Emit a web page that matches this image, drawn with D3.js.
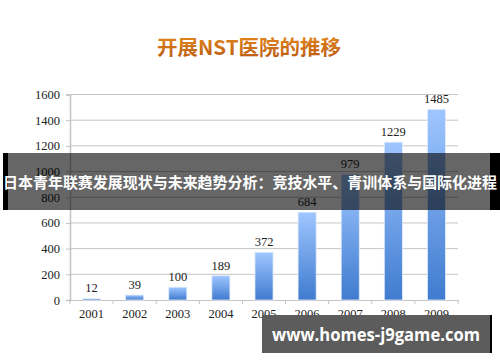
<!DOCTYPE html>
<html>
<head>
<meta charset="utf-8">
<script src="https://cdn.jsdelivr.net/npm/d3@7"></script>
<style>
  body { margin: 0; background: #fff; }
  svg { display: block; }
</style>
</head>
<body>
<div id="chart"></div>
<script>
// chart data
const years = ["2001", "2002", "2003", "2004", "2005", "2006", "2007", "2008", "2009"];
const counts = [12, 39, 100, 189, 372, 684, 979, 1229, 1485];
const yTicks = [0, 200, 400, 600, 800, 1000, 1200, 1400, 1600];
const titleText = "开展NST医院的推移";
const bannerText = "日本青年联赛发展现状与未来趋势分析：竞技水平、青训体系与国际化进程";
const siteText = "www.homes-j9game.com";

const svgWidth = 500, svgHeight = 362;
const margin = { top: 94.5, right: 42, bottom: 62, left: 70 };
const width = svgWidth - margin.left - margin.right,
    height = svgHeight - margin.top - margin.bottom;

const svg = d3.select("#chart").append("svg")
    .attr("width", svgWidth)
    .attr("height", svgHeight);

// gradients
const defs = svg.append("defs");
const barGrad = defs.append("linearGradient")
    .attr("id", "barGrad")
    .attr("x1", 0).attr("y1", 0).attr("x2", 0).attr("y2", 1);
barGrad.append("stop").attr("offset", "0%").attr("stop-color", "#9fc6ff");
barGrad.append("stop").attr("offset", "100%").attr("stop-color", "#3f7bcf");

const titleGrad = defs.append("linearGradient")
    .attr("id", "titleGrad")
    .attr("x1", 0).attr("y1", 0).attr("x2", 0).attr("y2", 1);
titleGrad.append("stop").attr("offset", "0%").attr("stop-color", "#e8901f");
titleGrad.append("stop").attr("offset", "100%").attr("stop-color", "#b8560f");

// title
svg.append("text")
    .attr("x", 249)
    .attr("y", 55)
    .attr("text-anchor", "middle")
    .attr("font-family", "'Noto Sans CJK SC', sans-serif")
    .attr("font-weight", "bold")
    .attr("font-size", 20.5)
    .attr("fill", "url(#titleGrad)")
    .text(titleText);

const g = svg.append("g")
    .attr("transform", `translate(${margin.left},${margin.top})`);

// scales
const x = d3.scaleBand()
    .domain(years)
    .range([0, width])
    .paddingInner(0.58)
    .paddingOuter(0.29);

const y = d3.scaleLinear()
    .domain([0, 1600])
    .range([height, 0]);

// gridlines
g.append("g")
    .selectAll("line")
    .data(yTicks.filter(d => d > 0))
    .join("line")
    .attr("x1", 0)
    .attr("x2", width)
    .attr("y1", d => y(d))
    .attr("y2", d => y(d))
    .attr("stroke", "#c4c4c4")
    .attr("stroke-width", 1);

// y axis
const yAxis = g.append("g")
    .call(d3.axisLeft(y).tickValues(yTicks).tickFormat(d3.format("d")).tickSize(4).tickPadding(6));
yAxis.select(".domain").attr("stroke", "#c4c4c4").attr("stroke-width", 1.5);
yAxis.selectAll(".tick line").attr("stroke", "#c4c4c4");
yAxis.selectAll("text")
    .attr("font-family", "'Liberation Serif', 'DejaVu Serif', serif")
    .attr("font-size", 12.5)
    .attr("fill", "#222");

// x axis
const xAxis = g.append("g")
    .attr("transform", `translate(0,${height})`)
    .call(d3.axisBottom(x).tickSize(0).tickPadding(9));
xAxis.select(".domain").attr("stroke", "#c4c4c4").attr("stroke-width", 1);
xAxis.selectAll("text")
    .attr("font-family", "'Liberation Serif', 'DejaVu Serif', serif")
    .attr("font-size", 12.5)
    .attr("fill", "#222");

// category separators on x axis
g.append("g")
    .selectAll("line")
    .data(d3.range(years.length + 1))
    .join("line")
    .attr("x1", i => i * width / years.length)
    .attr("x2", i => i * width / years.length)
    .attr("y1", height)
    .attr("y2", height + 4)
    .attr("stroke", "#c4c4c4");

// bars
g.selectAll("rect.bar")
    .data(counts)
    .join("rect")
    .attr("class", "bar")
    .attr("x", (d, i) => x(years[i]))
    .attr("y", d => y(d))
    .attr("width", x.bandwidth())
    .attr("height", d => height - y(d))
    .attr("fill", "url(#barGrad)")
    .attr("stroke", "#e4eefc")
    .attr("stroke-width", 0.8);

// value labels
g.selectAll("text.val")
    .data(counts)
    .join("text")
    .attr("class", "val")
    .attr("x", (d, i) => x(years[i]) + x.bandwidth() / 2)
    .attr("y", d => y(d) - 6)
    .attr("text-anchor", "middle")
    .attr("font-family", "'Liberation Serif', 'DejaVu Serif', serif")
    .attr("font-size", 12.5)
    .attr("fill", "#222")
    .text(d => d);

// overlay banner: black edges, translucent middle
svg.append("rect")
    .attr("x", 3).attr("y", 153)
    .attr("width", 5).attr("height", 57)
    .attr("fill", "#000");
svg.append("rect")
    .attr("x", 490).attr("y", 153)
    .attr("width", 10).attr("height", 57)
    .attr("fill", "#000");
svg.append("rect")
    .attr("x", 8).attr("y", 153)
    .attr("width", 482).attr("height", 57)
    .attr("fill", "rgba(0,0,0,0.6)");

svg.append("text")
    .attr("x", 250)
    .attr("y", 188)
    .attr("text-anchor", "middle")
    .attr("font-family", "'Noto Sans CJK SC', sans-serif")
    .attr("font-weight", "bold")
    .attr("font-size", 15.2)
    .attr("fill", "#fff")
    .attr("textLength", 494)
    .attr("lengthAdjust", "spacingAndGlyphs")
    .text(bannerText);

// site box at bottom right
svg.append("rect")
    .attr("x", 262).attr("y", 315)
    .attr("width", 228).attr("height", 38)
    .attr("fill", "#5c5c5c");
svg.append("rect")
    .attr("x", 490).attr("y", 315)
    .attr("width", 2).attr("height", 38)
    .attr("fill", "#000");

svg.append("text")
    .attr("x", 376)
    .attr("y", 341)
    .attr("text-anchor", "middle")
    .attr("font-family", "'Open Sans', 'Noto Sans', sans-serif")
    .attr("font-weight", "bold")
    .attr("font-size", 18)
    .attr("fill", "#fff")
    .attr("textLength", 208)
    .attr("lengthAdjust", "spacingAndGlyphs")
    .text(siteText);
</script>
</body>
</html>
